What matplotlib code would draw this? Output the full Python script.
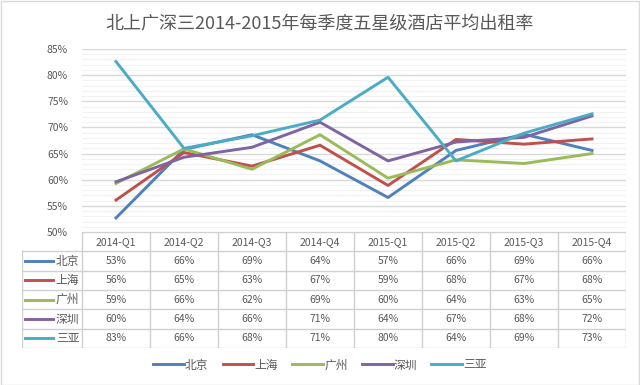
import numpy as np
import matplotlib
matplotlib.use("Agg")
import matplotlib.pyplot as plt
from matplotlib.lines import Line2D
from matplotlib.patches import Rectangle
from matplotlib.ticker import PercentFormatter, MultipleLocator

plt.rcParams['font.family'] = ['Noto Sans CJK SC', 'DejaVu Sans']

title = "北上广深三2014-2015年每季度五星级酒店平均出租率"
quarters = ["2014-Q1", "2014-Q2", "2014-Q3", "2014-Q4",
            "2015-Q1", "2015-Q2", "2015-Q3", "2015-Q4"]
cities = ["北京", "上海", "广州", "深圳", "三亚"]

beijing = [52.7, 65.8, 68.6, 63.6, 56.6, 65.6, 68.7, 65.6]
shanghai = [56.1, 65.2, 62.6, 66.6, 58.9, 67.7, 66.8, 67.8]
guangzhou = [59.3, 65.9, 62.0, 68.6, 60.3, 63.8, 63.1, 65.0]
shenzhen = [59.6, 64.3, 66.2, 71.0, 63.6, 67.2, 68.1, 72.2]
sanya = [82.6, 66.0, 68.4, 71.4, 79.6, 63.6, 68.9, 72.6]

series = [beijing, shanghai, guangzhou, shenzhen, sanya]
colors = ["#4F81BD", "#C0504D", "#9BBB59", "#8064A2", "#4BACC6"]
text_c = "#595959"
grid_c = "#D9D9D9"

W, H = 640, 385
fig = plt.figure(figsize=(W / 100, H / 100), dpi=100)
fig.patches.append(Rectangle((0.5 / W, 0.5 / H), 1 - 1.5 / W, 1 - 1.5 / H,
                             transform=fig.transFigure, fill=False,
                             edgecolor=grid_c, linewidth=1))

def px(x0, y0, x1, y1):
    return [x0 / W, 1 - y1 / H, (x1 - x0) / W, (y1 - y0) / H]

# main plot
ax = fig.add_axes(px(82, 49, 626, 232))
x = np.arange(len(quarters))
for vals, c in zip(series, colors):
    ax.plot(x, vals, color=c, linewidth=2.1)
ax.set_xlim(-0.5, len(quarters) - 0.5)
ax.set_ylim(50, 85)
ax.yaxis.set_major_locator(MultipleLocator(5))
ax.yaxis.set_minor_locator(MultipleLocator(1))
ax.yaxis.set_major_formatter(PercentFormatter(xmax=100, decimals=0))
ax.grid(axis='y', which='major', color=grid_c, linewidth=1)
ax.grid(axis='y', which='minor', color="#F2F2F2", linewidth=0.8)
ax.set_axisbelow(True)
ax.set_xticks([])
ax.tick_params(axis='y', which='both', length=0, labelsize=7.5,
               labelcolor=text_c, pad=10)
for s in ax.spines.values():
    s.set_visible(False)

fig.text(0.5, 1 - 24 / H, title, ha='center', va='center',
         fontsize=13, color=text_c)

# data table below the plot
head_w = 60 / 68.0
tab = fig.add_axes(px(22, 232, 626, 348))
nrows = len(cities) + 1
tab.set_xlim(-0.5 - head_w, len(quarters) - 0.5)
tab.set_ylim(nrows, 0)
tab.axis('off')
lc = "#D0D0D0"
# horizontal lines
tab.plot([-0.5, len(quarters) - 0.5], [0, 0], color=lc, lw=1)
for r in range(1, nrows + 1):
    tab.plot([-0.5 - head_w, len(quarters) - 0.5], [r, r], color=lc, lw=1)
# vertical lines
tab.plot([-0.5 - head_w] * 2, [1, nrows], color=lc, lw=1)
for i in range(len(quarters) + 1):
    tab.plot([i - 0.5] * 2, [0, nrows], color=lc, lw=1)
for i, q in enumerate(quarters):
    tab.text(i, 0.5, q, ha='center', va='center', fontsize=7.5, color=text_c)
for r, (name, vals, c) in enumerate(zip(cities, series, colors), start=1):
    tab.plot([-0.5 - head_w + 0.05, -0.5 - head_w + 0.45], [r + 0.5] * 2,
             color=c, lw=2.1)
    tab.text(-0.54, r + 0.5, name, ha='right', va='center', fontsize=8.5,
             color=text_c)
    for i, v in enumerate(vals):
        tab.text(i, r + 0.5, f"{v:.0f}%", ha='center', va='center',
                 fontsize=7.5, color=text_c)

handles = [Line2D([], [], color=c, lw=2.1) for c in colors]
fig.legend(handles, cities, loc='center', bbox_to_anchor=(0.5, 1 - 365 / H),
           ncol=5, frameon=False, fontsize=8.5, handlelength=2.6,
           handletextpad=0.1, columnspacing=1.2, labelcolor=text_c)

fig.savefig("out.png", dpi=100)
